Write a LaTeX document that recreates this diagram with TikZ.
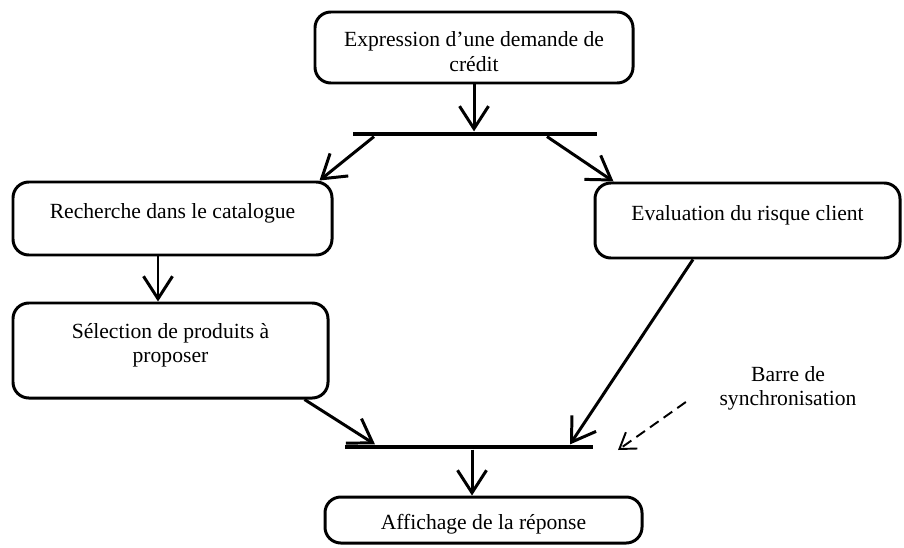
\documentclass[tikz,border=0pt]{standalone}
\usepackage{fontspec}
\setmainfont{Liberation Serif}
\usepackage{tikz}
\usetikzlibrary{arrows.meta}
\tikzset{
  act/.style={draw, line width=1.7pt, rounded corners=9pt, align=center,
              font=\fontsize{12.3}{14}\selectfont, inner sep=2pt},
  syncbar/.style={fill=black, inner sep=0pt, minimum height=0.09cm},
  flow/.style={line width=1.7pt, -{Straight Barb[length=0.45cm, width=0.58cm, line width=1.7pt]}},
  hint/.style={line width=1.1pt, dash pattern=on 6pt off 3.5pt,
               -{Straight Barb[length=0.3cm, width=0.4cm, line width=1.1pt]}},
}

\begin{document}
\begin{tikzpicture}
    \useasboundingbox (0,0) rectangle (18.08,-10.94);

    % --- activities -------------------------------------------------------
    \node[act, minimum width=6.36cm, minimum height=1.42cm, text height=0.95cm] (expr) at (9.48,-0.95)
        {Expression d'une demande de\\crédit};
    \node[act, minimum width=6.38cm, minimum height=1.46cm, text depth=0.3cm] (rech) at (3.45,-4.37)
        {Recherche dans le catalogue};
    \node[act, minimum width=6.10cm, minimum height=1.50cm, text depth=0.3cm] (eval) at (14.95,-4.41)
        {Evaluation du risque client};
    \node[act, minimum width=6.30cm, minimum height=1.90cm, text depth=0.3cm] (sel) at (3.41,-7.01)
        {Sélection de produits à\\proposer};
    \node[act, minimum width=6.34cm, minimum height=0.92cm, text height=0.48cm] (aff) at (9.67,-10.40)
        {Affichage de la réponse};

    % --- synchronisation bars ---------------------------------------------
    \node[syncbar, minimum width=4.88cm] (fork) at (9.50,-2.68) {};
    \node[syncbar, minimum width=4.96cm] (join) at (9.38,-8.94) {};

    \node[align=center, font=\fontsize{12.3}{13.5}\selectfont] (lbl) at (15.76,-7.76)
        {Barre de\\synchronisation};
    \coordinate (hintend) at (12.36,-9.00);

    % --- transitions ------------------------------------------------------
    \draw[flow] (expr.south) -- (expr.south |- fork.north);
    \draw[flow] ([xshift=-2.02cm]fork.south) -- ([xshift=-0.28cm]rech.north east);
    \draw[flow] ([xshift=1.44cm]fork.south) -- ([xshift=0.40cm]eval.north west);
    \draw[flow] ([xshift=-0.29cm]rech.south) -- ([xshift=-0.29cm]rech.south |- sel.north);
    \draw[flow] ([xshift=-0.50cm]sel.south east) -- ([xshift=-1.88cm]join.north);
    \draw[flow] ([xshift=-1.09cm]eval.south) -- ([xshift=2.02cm]join.north);
    \draw[flow] ([xshift=0.06cm]join.south) -- ([xshift=0.06cm]join.south |- aff.north);
    \draw[hint] ([xshift=-0.55cm, yshift=-0.28cm]lbl.west) -- (hintend);
  \end{tikzpicture}
\end{document}
